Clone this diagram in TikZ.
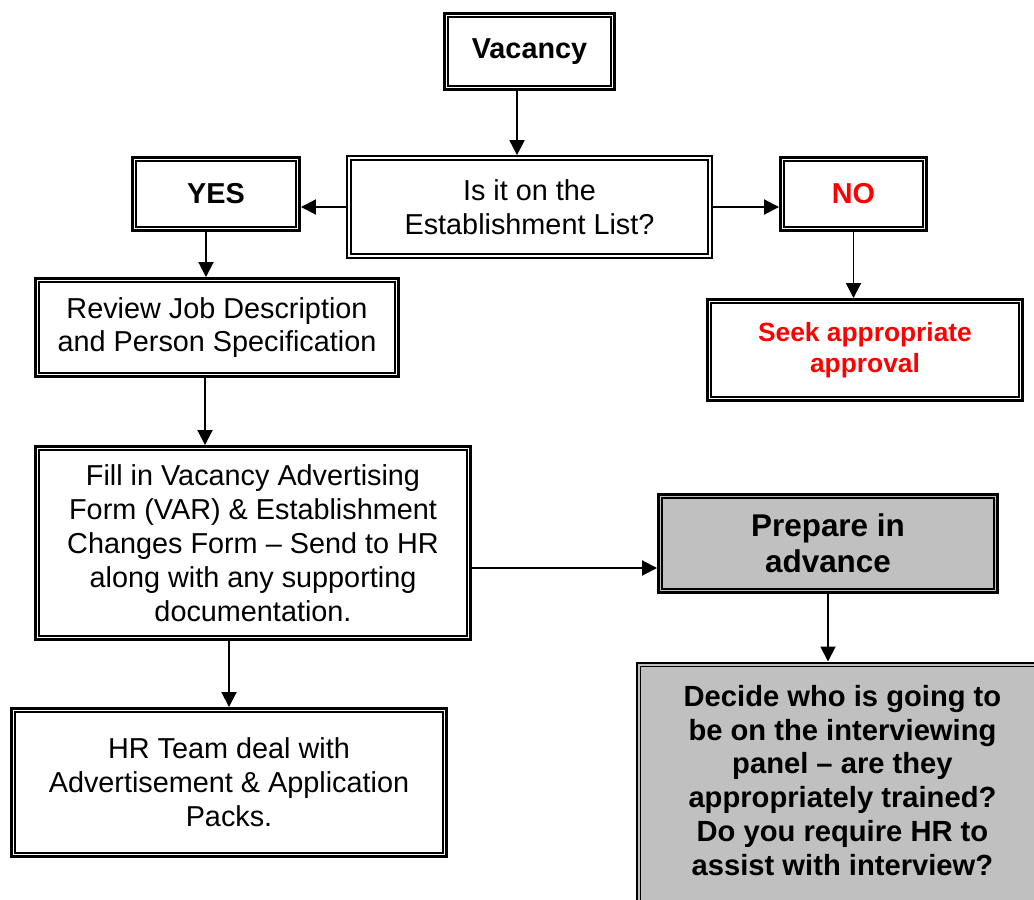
\documentclass[tikz,border=0pt]{standalone}
\usepackage{fontspec}
\setmainfont{Liberation Sans}
\usepackage{xcolor}
\usepackage{tikz}
\usetikzlibrary{arrows.meta,positioning}
\definecolor{panelgray}{RGB}{192,192,192}
\definecolor{alertred}{RGB}{255,0,0}
\tikzset{
  box/.style={draw,line width=1.7pt,align=center,inner sep=0pt,
    font=\fontsize{16.4}{19.3}\selectfont},
  boldtxt/.style={font=\fontsize{16.4}{19.3}\selectfont\bfseries},
  bigtxt/.style={font=\fontsize{17.9}{20.4}\selectfont\bfseries},
  arr/.style={line width=1.1pt,-{Triangle[length=0.3cm,width=0.3cm]}}
}

\begin{document}
\begin{tikzpicture}[x=0.02cm,y=-0.02cm]
  \useasboundingbox (0,0) rectangle (1034,899);
  \clip (0,0) rectangle (1034,899);
  \node[box,boldtxt,minimum width=3.4cm,minimum height=1.52cm] (vac) at (529.5,51.5) {Vacancy};
  \node[box,line width=1pt,minimum width=7.3cm,minimum height=2.04cm] (est) at (529.5,207) {Is it on the\\Establishment List?};
  \node[box,boldtxt,minimum width=3.34cm,minimum height=1.46cm] (yes) at (216,194) {YES};
  \node[box,boldtxt,text=alertred,minimum width=2.92cm,minimum height=1.46cm] (no) at (853.5,194) {NO};
  \node[box,text=alertred,font=\fontsize{15}{17.6}\selectfont\bfseries,minimum width=6.3cm,minimum height=2.02cm] (seek) at (865,350) {Seek appropriate\\approval};
  \node[box,minimum width=7.26cm,minimum height=1.96cm] (rev) at (217,327.5) {Review Job Description\\and Person Specification};
  \node[box,minimum width=8.7cm,minimum height=3.86cm] (var) at (253,543) {Fill in Vacancy Advertising\\Form (VAR) \& Establishment\\Changes Form -- Send to HR\\along with any supporting\\documentation.};
  \node[box,bigtxt,fill=panelgray,minimum width=6.78cm,minimum height=1.96cm] (prep) at (828,543.5) {Prepare in\\advance};
  \node[box,fill=panelgray,minimum width=8.22cm,inner ysep=0.44cm,text depth=3cm,
    font=\fontsize{16.6}{19.3}\selectfont\bfseries,anchor=north west] (dec) at (635.5,661.5)
    {Decide who is going to\\be on the interviewing\\panel -- are they\\appropriately trained?\\Do you require HR to\\assist with interview?};
  \node[box,minimum width=8.7cm,minimum height=2.96cm] (hr) at (229,782.5) {HR Team deal with\\Advertisement \& Application\\Packs.};
  % inner frame of each box
  \foreach \n in {vac,est,yes,no,seek,rev,var,prep,dec,hr}
    \draw[line width=1.1pt] ([shift={(0.1cm,-0.1cm)}]\n.north west) rectangle ([shift={(-0.1cm,0.1cm)}]\n.south east);

  \draw[arr] ([xshift=-0.25cm]vac.south) -- ([xshift=-0.25cm]vac.south |- est.north);
  \draw[arr] (est.west) -- (est.west -| yes.east);
  \draw[arr] (est.east) -- (est.east -| no.west);
  \draw[arr] ([xshift=-0.2cm]yes.south) -- ([xshift=-0.2cm]yes.south |- rev.north);
  \draw[arr] (no.south) -- (no.south |- seek.north);
  \draw[arr] ([xshift=-0.24cm]rev.south) -- ([xshift=-0.24cm]rev.south |- var.north);
  \draw[arr] ([yshift=-0.5cm]var.east) -- ([yshift=-0.5cm]var.east -| prep.west);
  \draw[arr] (var.south -| hr.north) -- (hr.north);
  \draw[arr] (prep.south) -- (prep.south |- dec.north);
\end{tikzpicture}
\end{document}
